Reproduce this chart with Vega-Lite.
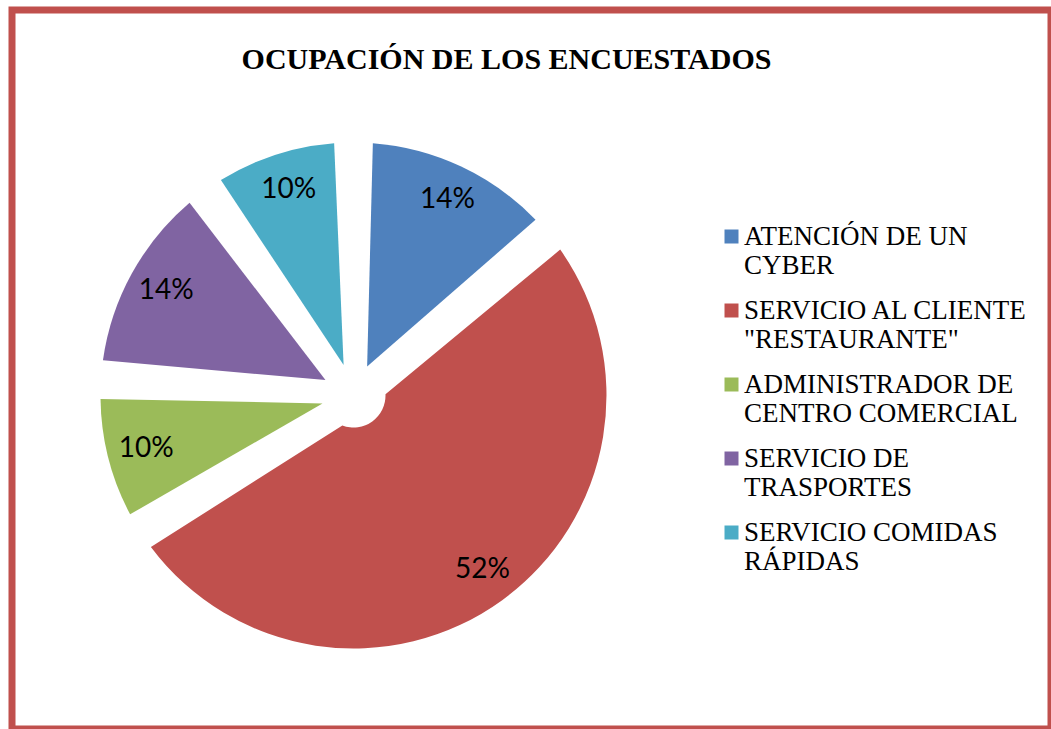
{
  "$schema": "https://vega.github.io/schema/vega-lite/v6.json",
  "width": 1039,
  "height": 719,
  "autosize": {"type": "none"},
  "padding": {"left": 12, "top": 10, "right": 0, "bottom": 0},
  "background": "white",
  "view": {"stroke": "#C0504D", "strokeWidth": 7, "fill": "white"},
  "config": {
    "view": {"stroke": "#C0504D", "strokeWidth": 7}
  },
  "title": {
    "text": "OCUPACIÓN DE LOS ENCUESTADOS",
    "font": "Liberation Serif",
    "fontSize": 30,
    "fontWeight": "bold",
    "color": "#000000",
    "offset": -65,
    "dx": -25
  },
  "data": {
    "values": [
      {"ocupacion": "ATENCIÓN DE UN\nCYBER", "porcentaje": 0.14, "orden": 1},
      {"ocupacion": "SERVICIO AL CLIENTE\n\"RESTAURANTE\"", "porcentaje": 0.52, "orden": 2},
      {"ocupacion": "ADMINISTRADOR DE\nCENTRO COMERCIAL", "porcentaje": 0.10, "orden": 3},
      {"ocupacion": "SERVICIO DE\nTRASPORTES", "porcentaje": 0.14, "orden": 4},
      {"ocupacion": "SERVICIO COMIDAS\nRÁPIDAS", "porcentaje": 0.10, "orden": 5}
    ]
  },
  "encoding": {
    "theta": {"field": "porcentaje", "type": "quantitative", "stack": true},
    "order": {"field": "orden", "type": "quantitative"}
  },
  "layer": [
    {
      "mark": {"type": "arc", "radius": 253, "innerRadius": 32, "padAngle": 0.152, "xOffset": -178, "yOffset": 26},
      "encoding": {
        "color": {
          "field": "ocupacion",
          "type": "nominal",
          "scale": {
            "domain": ["ATENCIÓN DE UN\nCYBER", "SERVICIO AL CLIENTE\n\"RESTAURANTE\"", "ADMINISTRADOR DE\nCENTRO COMERCIAL", "SERVICIO DE\nTRASPORTES", "SERVICIO COMIDAS\nRÁPIDAS"],
            "range": ["#4F81BD", "#C0504D", "#9BBB59", "#8064A2", "#4BACC6"]
          },
          "legend": {
            "title": null,
            "orient": "none",
            "legendX": 706,
            "legendY": 213,
            "padding": 0,
            "symbolType": "square",
            "symbolSize": 196,
            "symbolStrokeWidth": 0,
            "labelFont": "Liberation Serif",
            "labelFontSize": 27,
            "labelColor": "#000000",
            "labelOffset": -1,
            "labelLimit": 0,
            "rowPadding": 17,
            "labelExpr": "split(datum.label, '\\n')"
          }
        }
      }
    },
    {
      "mark": {"type": "text", "radius": 216, "font": "Lato", "fontSize": 28, "color": "#000000", "xOffset": -176, "yOffset": 26},
      "encoding": {
        "text": {"field": "porcentaje", "type": "quantitative", "format": ".0%"}
      }
    }
  ]
}
